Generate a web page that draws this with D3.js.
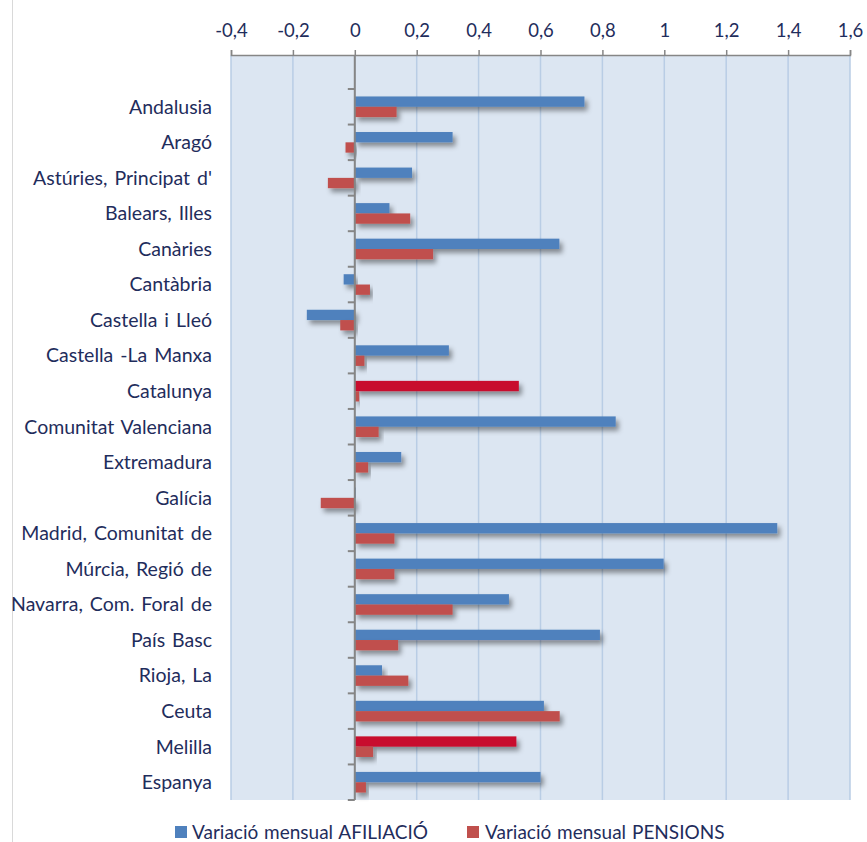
<!DOCTYPE html>
<html><head><meta charset="utf-8">
<script src="https://cdn.jsdelivr.net/npm/d3@7"></script>
<style>body{margin:0;background:#fff}svg{display:block}</style>
</head><body>
<script>
const categories = ["Andalusia","Aragó","Astúries, Principat d'","Balears, Illes","Canàries","Cantàbria","Castella i Lleó","Castella -La Manxa","Catalunya","Comunitat Valenciana","Extremadura","Galícia","Madrid, Comunitat de","Múrcia, Regió de","Navarra, Com. Foral de","País Basc","Rioja, La","Ceuta","Melilla","Espanya"];
const afiliacio = [0.742,0.316,0.185,0.112,0.661,-0.036,-0.155,0.304,0.530,0.843,0.150,0.003,1.365,0.998,0.498,0.792,0.088,0.611,0.522,0.600];
const pensions  = [0.135,-0.030,-0.087,0.179,0.253,0.049,-0.047,0.031,0.014,0.077,0.043,-0.110,0.128,0.128,0.316,0.140,0.173,0.662,0.059,0.036];
const highlighted = ["Catalunya","Melilla"];
const seriesNames = ["Variació mensual AFILIACIÓ","Variació mensual PENSIONS"];
const xTicks = [-0.4,-0.2,0,0.2,0.4,0.6,0.8,1,1.2,1.4,1.6];

const W=867,H=842;
const colors=["#4f81bd","#c0504d"], hiColor="#c8102e", textColor="#1f2d5c";
const font="Lato, 'Open Sans', sans-serif";
const svg=d3.select("body").append("svg").attr("width",W).attr("height",H);

const defs=svg.append("defs");
const f=defs.append("filter").attr("id","sh").attr("x","-10%").attr("y","-50%").attr("width","130%").attr("height","250%");
f.append("feDropShadow").attr("dx",3).attr("dy",4).attr("stdDeviation",2.5).attr("flood-color","#000").attr("flood-opacity",0.4);

const plot={left:231,right:850,top:55,bottom:800};
const x=d3.scaleLinear().domain([-0.4,1.6]).range([plot.left,plot.right]);
const y=d3.scaleBand().domain(categories).range([89,800]).paddingInner(0.42).paddingOuter(0.21);
const ys=d3.scaleBand().domain([0,1]).range([0,y.bandwidth()]);

// outer border
svg.append("line").attr("x1",12.5).attr("x2",12.5).attr("y1",0).attr("y2",H).attr("stroke","#d9d9d9");

// background
svg.append("rect").attr("x",plot.left).attr("y",plot.top).attr("width",plot.right-plot.left).attr("height",plot.bottom-plot.top).attr("fill","#dce6f2");
// grid
svg.append("g").selectAll("line").data(xTicks).join("line")
 .attr("x1",d=>x(d)).attr("x2",d=>x(d)).attr("y1",plot.top).attr("y2",plot.bottom)
 .attr("stroke","#b9cde5").attr("stroke-width",1.5);

// bars
const rows=categories.map((c,i)=>({c,vals:[afiliacio[i],pensions[i]]}));
const g=svg.append("g");
rows.forEach(r=>{
  r.vals.forEach((v,k)=>{
    const col = (k===0 && highlighted.includes(r.c)) ? hiColor : colors[k];
    g.append("rect")
     .attr("x",x(Math.min(0,v))).attr("width",Math.abs(x(v)-x(0)))
     .attr("y",y(r.c)+ys(k)).attr("height",ys.bandwidth())
     .attr("fill",col).attr("filter","url(#sh)");
  });
});

// x axis (top)
const xa=svg.append("g").attr("transform",`translate(0,${plot.top})`)
 .call(d3.axisTop(x).tickValues(xTicks).tickSize(5).tickPadding(13).tickFormat(d=>String(d).replace(".",",")));
xa.select(".domain").attr("stroke","#868686").attr("stroke-width",1.5);
xa.selectAll(".tick line").attr("stroke","#868686").attr("stroke-width",1.5);
xa.selectAll("text").attr("fill",textColor).attr("font-family",font).attr("font-size",18.5);

// y axis at zero
svg.append("line").attr("x1",x(0)).attr("x2",x(0)).attr("y1",plot.top).attr("y2",plot.bottom).attr("stroke","#868686").attr("stroke-width",2);
const bounds=categories.map(c=>y(c)+y.bandwidth()/2-y.step()/2);
bounds.push(plot.bottom);
svg.append("g").selectAll("line").data(bounds).join("line")
 .attr("x1",x(0)-7).attr("x2",x(0)).attr("y1",d=>d).attr("y2",d=>d).attr("stroke","#868686").attr("stroke-width",2);

// category labels
svg.append("g").selectAll("text").data(categories).join("text")
 .attr("x",212).attr("y",c=>y(c)+y.bandwidth()/2).attr("dy","0.35em")
 .attr("text-anchor","end").attr("fill",textColor).attr("font-family",font).attr("font-size",19.5)
 .attr("word-spacing",2)
 .text(c=>c);

// legend
const leg=[{x:175,tx:192},{x:467,tx:485}];
seriesNames.forEach((s,k)=>{
  svg.append("rect").attr("x",leg[k].x).attr("y",826).attr("width",12).attr("height",12).attr("fill",colors[k]);
  svg.append("text").attr("x",leg[k].tx).attr("y",832).attr("dy","0.35em").attr("fill",textColor)
   .attr("font-family",font).attr("font-size",19).attr("word-spacing",1).text(s);
});
</script>
</body></html>
